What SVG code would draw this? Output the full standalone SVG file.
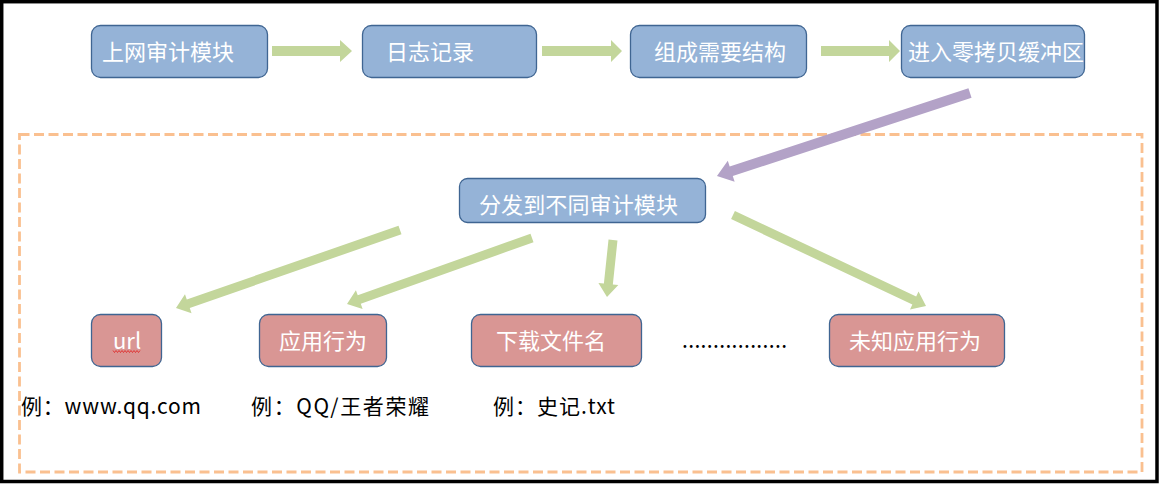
<svg xmlns="http://www.w3.org/2000/svg" width="1159" height="484" viewBox="0 0 1159 484">
<style>
.blue{fill:#95B3D7;stroke:#3F6592;stroke-width:1.3}
.red{fill:#D99694;stroke:#3F6592;stroke-width:1.3}
.wt{font-family:"Noto Sans CJK SC","Microsoft YaHei",sans-serif;font-size:22px;fill:#FFFFFF}
.bt{font-family:"Noto Sans CJK SC","Microsoft YaHei",sans-serif;font-size:21px;fill:#000000}
.ga{fill:#C3D69B}
.pa{fill:#B3A2C7}
</style>
<rect x="1.7" y="1.7" width="1155.3" height="479.8" fill="#FFFFFF" stroke="#000000" stroke-width="3.5"/>
<rect x="19.5" y="134.5" width="1122.5" height="337.5" fill="none" stroke="#FAC090" stroke-width="2.8" stroke-dasharray="10,4.5"/>
<g id="connectors">
<polygon class="ga" points="272,46 340,46 340,40 352,51 340,62 340,56 272,56"/>
<polygon class="ga" points="542,46 611,46 611,40 622,51 611,62 611,56 542,56"/>
<polygon class="ga" points="821,46 889,46 889,40 900,51 889,62 889,56 821,56"/>
<polygon class="pa" transform="translate(970,93) rotate(161.84)" points="0,-5 251.3,-5 251.3,-11 266.3,0 251.3,11 251.3,5 0,5"/>
<polygon class="ga" transform="translate(400,230) rotate(160.8)" points="0,-4.5 224.2,-4.5 224.2,-10 237.2,0 224.2,10 224.2,4.5 0,4.5"/>
<polygon class="ga" transform="translate(532,238) rotate(160.37)" points="0,-4.5 183.4,-4.5 183.4,-10 196.4,0 183.4,10 183.4,4.5 0,4.5"/>
<polygon class="ga" transform="translate(613,240) rotate(96)" points="0,-4.5 44.3,-4.5 44.3,-10 57.3,0 44.3,10 44.3,4.5 0,4.5"/>
<polygon class="ga" transform="translate(733,215) rotate(25.24)" points="0,-4.5 200.4,-4.5 200.4,-10 213.4,0 200.4,10 200.4,4.5 0,4.5"/>
</g>
<g id="n1"><rect class="blue" x="91.5" y="25.5" width="176" height="52" rx="9"/><text class="wt" x="102" y="60">上网审计模块</text></g>
<g id="n2"><rect class="blue" x="362.5" y="25.5" width="174" height="52" rx="9"/><text class="wt" x="386" y="60">日志记录</text></g>
<g id="n3"><rect class="blue" x="630.5" y="25.5" width="176" height="52" rx="9"/><text class="wt" x="654" y="60">组成需要结构</text></g>
<g id="n4"><rect class="blue" x="901.5" y="25.5" width="183" height="52" rx="9"/><text class="wt" x="908" y="60">进入零拷贝缓冲区</text></g>
<g id="n5"><rect class="blue" x="459.5" y="178.5" width="246" height="44" rx="8"/><text class="wt" x="479" y="213" textLength="199" lengthAdjust="spacing">分发到不同审计模块</text></g>
<g id="n6"><rect class="red" x="91.5" y="314.5" width="70" height="52" rx="9"/><text class="wt" x="113" y="349">url</text><path d="M113,350.5 l1.5,2 l1.5,-2 l1.5,2 l1.5,-2 l1.5,2 l1.5,-2 l1.5,2 l1.5,-2 l1.5,2 l1.5,-2 l1.5,2 l1.5,-2 l1.5,2 l1.5,-2 l1.5,2 l1.5,-2 l1.5,2 l1.5,-2" fill="none" stroke="#E02020" stroke-width="0.8"/></g>
<g id="n7"><rect class="red" x="259.5" y="314.5" width="127" height="52" rx="9"/><text class="wt" x="279" y="349">应用行为</text></g>
<g id="n8"><rect class="red" x="471.5" y="314.5" width="170" height="52" rx="9"/><text class="wt" x="496" y="349">下载文件名</text></g>
<g id="n9"><rect class="red" x="829.5" y="314.5" width="175" height="52" rx="9"/><text class="wt" x="849" y="349">未知应用行为</text></g>
<text class="bt" x="682" y="348" font-size="17" textLength="105" lengthAdjust="spacing">.................</text>
<text class="bt" x="21" y="414" textLength="180" lengthAdjust="spacing">例：www.qq.com</text>
<text class="bt" x="251" y="414" textLength="178" lengthAdjust="spacing">例：QQ/王者荣耀</text>
<text class="bt" x="493" y="414" textLength="122" lengthAdjust="spacing">例：史记.txt</text>
</svg>
